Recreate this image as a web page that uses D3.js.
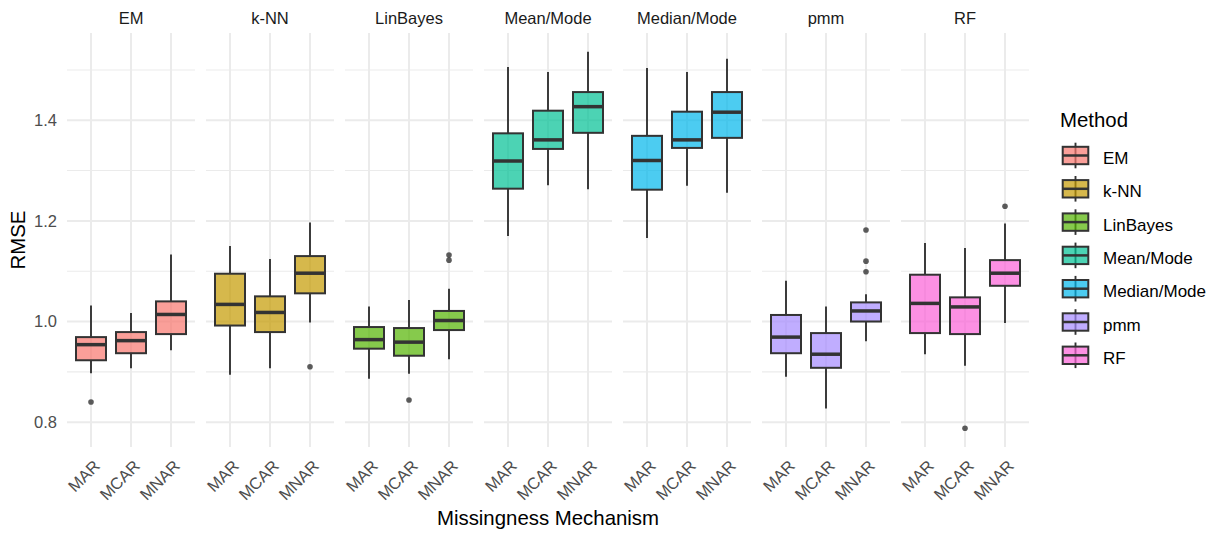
<!DOCTYPE html>
<html>
<head>
<meta charset="utf-8">
<title>RMSE by Missingness Mechanism</title>
<script src="https://d3js.org/d3.v7.min.js"></script>
<style>
  body { margin: 0; background: #fff; }
  svg text { font-family: "Liberation Sans", Arial, sans-serif; }
</style>
</head>
<body>
<div id="chart"></div>
<script>
// data
var methods = ["EM", "k-NN", "LinBayes", "Mean/Mode", "Median/Mode", "pmm", "RF"];
var mechanisms = ["MAR", "MCAR", "MNAR"];
var colors = ["#F8766D", "#C49A00", "#53B400", "#00C094", "#00B6EB", "#A58AFF", "#FB61D7"];

// one row per method, one value per mechanism
var whiskerLow = [
  [0.897, 0.907, 0.943],
  [0.894, 0.907, 0.998],
  [0.886, 0.896, 0.925],
  [1.170, 1.271, 1.263],
  [1.166, 1.270, 1.256],
  [0.890, 0.827, 0.961],
  [0.935, 0.912, 0.997]
];
var q1 = [
  [0.923, 0.937, 0.975],
  [0.992, 0.979, 1.056],
  [0.946, 0.932, 0.983],
  [1.264, 1.343, 1.375],
  [1.262, 1.345, 1.365],
  [0.937, 0.908, 1.000],
  [0.977, 0.975, 1.071]
];
var median = [
  [0.954, 0.962, 1.014],
  [1.034, 1.018, 1.096],
  [0.964, 0.959, 1.002],
  [1.319, 1.361, 1.427],
  [1.320, 1.361, 1.416],
  [0.969, 0.935, 1.021],
  [1.036, 1.029, 1.096]
];
var q3 = [
  [0.969, 0.979, 1.040],
  [1.095, 1.050, 1.130],
  [0.989, 0.987, 1.021],
  [1.374, 1.419, 1.456],
  [1.369, 1.417, 1.456],
  [1.013, 0.977, 1.038],
  [1.093, 1.048, 1.122]
];
var whiskerHigh = [
  [1.032, 1.017, 1.133],
  [1.150, 1.124, 1.197],
  [1.030, 1.043, 1.065],
  [1.506, 1.496, 1.536],
  [1.504, 1.496, 1.522],
  [1.081, 1.030, 1.054],
  [1.156, 1.146, 1.195]
];
// [method, mechanism, value]
var outliers = [
  ["EM", "MAR", 0.840],
  ["k-NN", "MNAR", 0.910],
  ["LinBayes", "MCAR", 0.844],
  ["LinBayes", "MNAR", 1.122],
  ["LinBayes", "MNAR", 1.132],
  ["pmm", "MNAR", 1.099],
  ["pmm", "MNAR", 1.120],
  ["pmm", "MNAR", 1.182],
  ["RF", "MCAR", 0.788],
  ["RF", "MNAR", 1.229]
];
var yTicks = [0.8, 1.0, 1.2, 1.4];
var yMinor = [0.9, 1.1, 1.3, 1.5];

var width = 1220, height = 535;
var panelTop = 33, panelBottom = 447;

var svg = d3.select("#chart").append("svg")
  .attr("width", width).attr("height", height);

// build one record per box
var boxes = [];
methods.forEach(function (m, i) {
  mechanisms.forEach(function (mech, j) {
    boxes.push({
      method: m, mech: mech, color: colors[i],
      lo: whiskerLow[i][j], q1: q1[i][j], med: median[i][j],
      q3: q3[i][j], hi: whiskerHigh[i][j]
    });
  });
});

// y range with the usual 5% expansion
var allVals = boxes.map(function (b) { return b.lo; })
  .concat(boxes.map(function (b) { return b.hi; }))
  .concat(outliers.map(function (o) { return o[2]; }));
var ext = d3.extent(allVals);
var pad = (ext[1] - ext[0]) * 0.05;
var y = d3.scaleLinear().domain([ext[0] - pad, ext[1] + pad]).range([panelBottom, panelTop]);

var panel = d3.scaleBand().domain(methods).range([67, 1029]).paddingInner(11 / 139).paddingOuter(0);
var x = d3.scalePoint().domain(mechanisms).range([0, panel.bandwidth()]).padding(0.6);
var boxW = x.step() * 0.75;
var color = d3.scaleOrdinal().domain(methods).range(colors);
var fillAlpha = 0.7;

var panels = svg.selectAll("g.panel").data(methods).enter().append("g")
  .attr("class", "panel")
  .attr("transform", function (d) { return "translate(" + panel(d) + ",0)"; });

// grid
panels.selectAll("line.minor").data(yMinor).enter().append("line")
  .attr("x1", 0).attr("x2", panel.bandwidth())
  .attr("y1", function (d) { return y(d); }).attr("y2", function (d) { return y(d); })
  .attr("stroke", "#ebebeb").attr("stroke-width", 1.1);
panels.selectAll("line.major").data(yTicks).enter().append("line")
  .attr("x1", 0).attr("x2", panel.bandwidth())
  .attr("y1", function (d) { return y(d); }).attr("y2", function (d) { return y(d); })
  .attr("stroke", "#ebebeb").attr("stroke-width", 2);
panels.selectAll("line.vgrid").data(mechanisms).enter().append("line")
  .attr("x1", function (d) { return x(d); }).attr("x2", function (d) { return x(d); })
  .attr("y1", panelTop).attr("y2", panelBottom)
  .attr("stroke", "#ebebeb").attr("stroke-width", 2);

// strip labels
panels.append("text")
  .attr("x", panel.bandwidth() / 2).attr("y", 24)
  .attr("text-anchor", "middle")
  .attr("font-size", 16.5).attr("fill", "#1a1a1a")
  .text(function (d) { return d; });

// x tick labels
panels.selectAll("text.xt").data(mechanisms).enter().append("text")
  .attr("text-anchor", "end")
  .attr("font-size", 16.5).attr("fill", "#4d4d4d")
  .attr("transform", function (d) { return "translate(" + (x(d) + 10) + ",467) rotate(-45)"; })
  .text(function (d) { return d; });

// boxes
var bx = panels.selectAll("g.box")
  .data(function (m) { return boxes.filter(function (b) { return b.method === m; }); })
  .enter().append("g")
  .attr("transform", function (d) { return "translate(" + x(d.mech) + ",0)"; });

bx.append("line")
  .attr("x1", 0).attr("x2", 0)
  .attr("y1", function (d) { return y(d.hi); }).attr("y2", function (d) { return y(d.q3); })
  .attr("stroke", "#333").attr("stroke-width", 1.9);
bx.append("line")
  .attr("x1", 0).attr("x2", 0)
  .attr("y1", function (d) { return y(d.q1); }).attr("y2", function (d) { return y(d.lo); })
  .attr("stroke", "#333").attr("stroke-width", 1.9);
bx.append("rect")
  .attr("x", -boxW / 2).attr("width", boxW)
  .attr("y", function (d) { return y(d.q3); })
  .attr("height", function (d) { return y(d.q1) - y(d.q3); })
  .attr("fill", function (d) { return d.color; }).attr("fill-opacity", fillAlpha)
  .attr("stroke", "#333").attr("stroke-width", 2);
bx.append("line")
  .attr("x1", -boxW / 2).attr("x2", boxW / 2)
  .attr("y1", function (d) { return y(d.med); }).attr("y2", function (d) { return y(d.med); })
  .attr("stroke", "#333").attr("stroke-width", 3.5);

// outliers
svg.selectAll("circle.out").data(outliers).enter().append("circle")
  .attr("cx", function (d) { return panel(d[0]) + x(d[1]); })
  .attr("cy", function (d) { return y(d[2]); })
  .attr("r", 2.8)
  .attr("fill", "#333").attr("fill-opacity", 0.8);

// y axis labels
svg.selectAll("text.yt").data(yTicks).enter().append("text")
  .attr("x", 57).attr("y", function (d) { return y(d) + 5.9; })
  .attr("text-anchor", "end")
  .attr("font-size", 16.5).attr("fill", "#4d4d4d")
  .text(function (d) { return d3.format(".1f")(d); });

// axis titles
svg.append("text")
  .attr("x", (panel.range()[0] + panel.range()[1]) / 2).attr("y", 525)
  .attr("text-anchor", "middle").attr("font-size", 20.4).attr("fill", "#000")
  .text("Missingness Mechanism");
svg.append("text")
  .attr("transform", "translate(25," + (panelTop + panelBottom) / 2 + ") rotate(-90)")
  .attr("text-anchor", "middle").attr("font-size", 20.4).attr("fill", "#000")
  .text("RMSE");

// legend
var legend = svg.append("g");
legend.append("text")
  .attr("x", 1060).attr("y", 127)
  .attr("font-size", 20.4).attr("fill", "#000")
  .text("Method");
var keys = legend.selectAll("g.key").data(methods).enter().append("g")
  .attr("transform", function (d, i) { return "translate(1075.5," + (155.5 + i * 33.3) + ")"; });
keys.append("line")
  .attr("x1", 0).attr("x2", 0).attr("y1", -12.8).attr("y2", 12.8)
  .attr("stroke", "#333").attr("stroke-width", 1.9);
keys.append("rect")
  .attr("x", -12.8).attr("width", 25.6).attr("y", -8.7).attr("height", 17.4)
  .attr("fill", function (d) { return color(d); }).attr("fill-opacity", fillAlpha)
  .attr("stroke", "#333").attr("stroke-width", 2);
keys.append("line")
  .attr("x1", -12.8).attr("x2", 12.8).attr("y1", 0).attr("y2", 0)
  .attr("stroke", "#333").attr("stroke-width", 2.5);
keys.append("text")
  .attr("x", 27.5).attr("y", 8.5)
  .attr("font-size", 17).attr("fill", "#000")
  .text(function (d) { return d; });
</script>
</body>
</html>
